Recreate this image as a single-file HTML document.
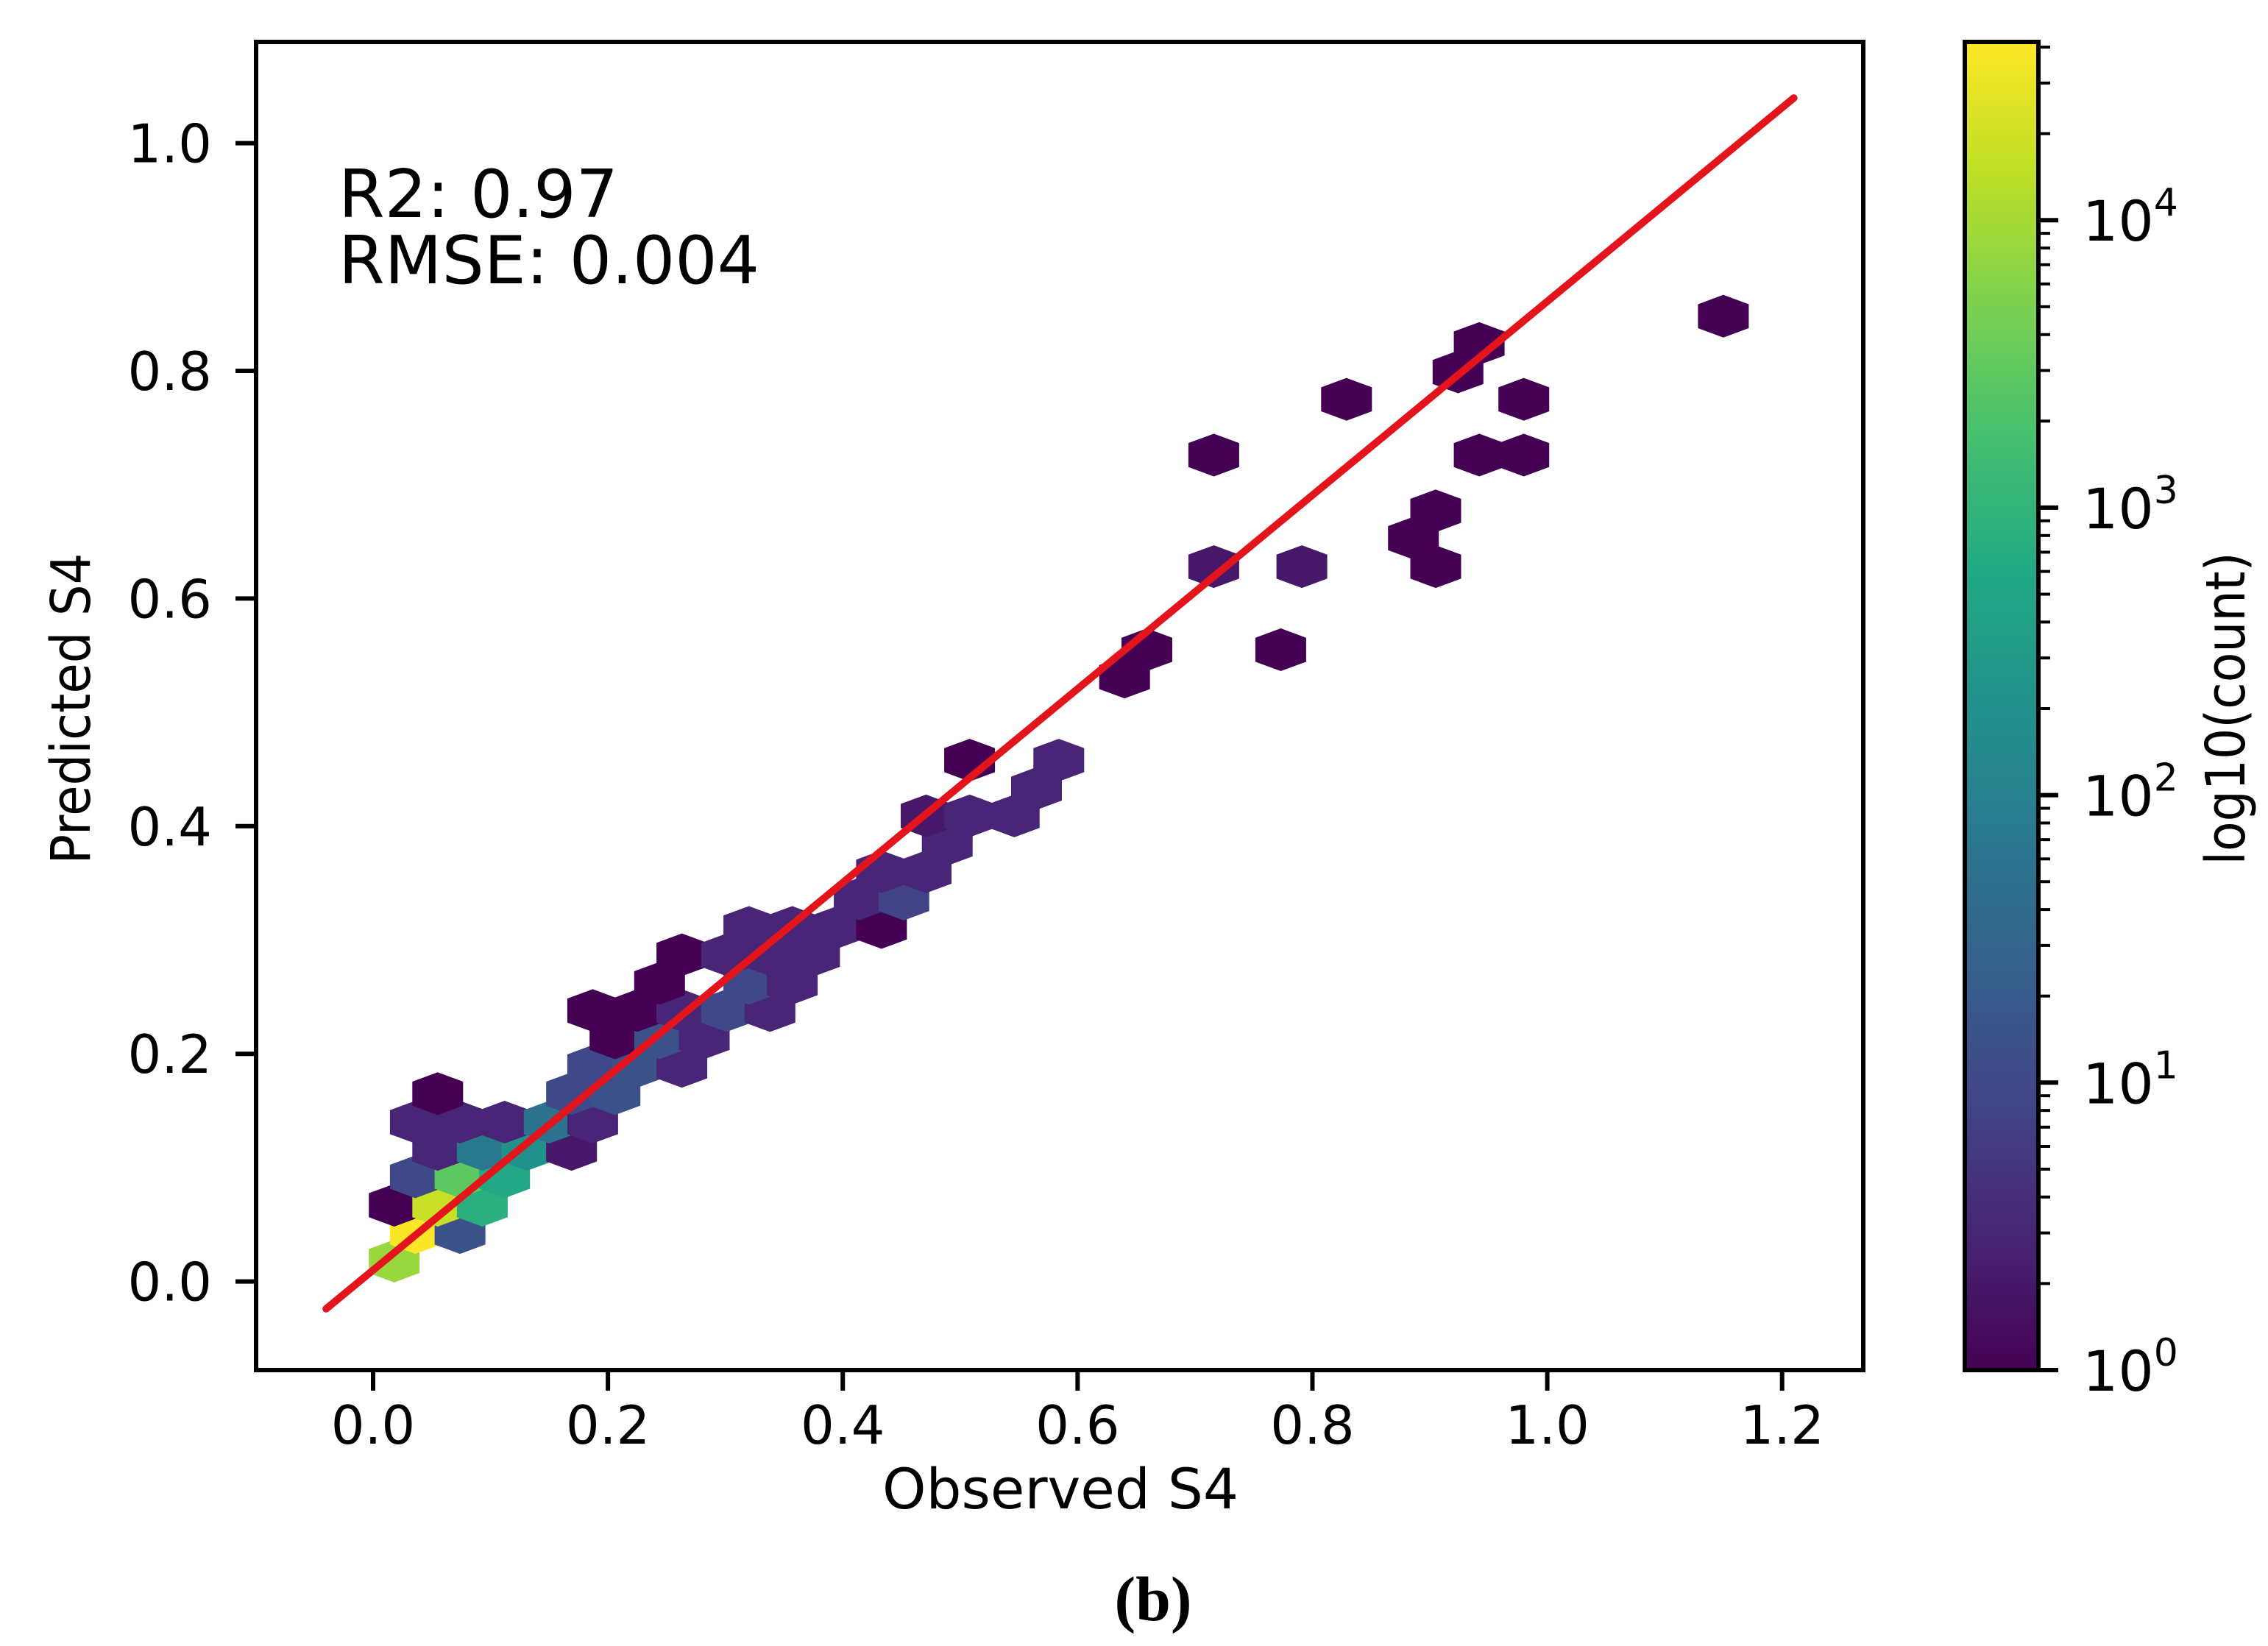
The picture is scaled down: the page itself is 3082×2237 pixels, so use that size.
<!DOCTYPE html>
<html><head><meta charset="utf-8">
<style>
html,body{margin:0;padding:0;background:#fff;}
svg{display:block;}
text{font-family:"DejaVu Sans","Liberation Sans",sans-serif;fill:#000;}
</style></head>
<body>
<svg id="chart" width="3082" height="2237" viewBox="0 0 3082 2237" xmlns="http://www.w3.org/2000/svg">
<defs>
<linearGradient id="viridis" x1="0" y1="1" x2="0" y2="0">
<stop offset="0" stop-color="#440154"/><stop offset="0.1" stop-color="#482475"/><stop offset="0.2" stop-color="#414487"/><stop offset="0.3" stop-color="#355f8d"/><stop offset="0.4" stop-color="#2a788e"/><stop offset="0.5" stop-color="#21918c"/><stop offset="0.6" stop-color="#22a884"/><stop offset="0.7" stop-color="#44bf70"/><stop offset="0.8" stop-color="#7ad151"/><stop offset="0.9" stop-color="#bddf26"/><stop offset="1" stop-color="#fde725"/>
</linearGradient>
<clipPath id="plotclip"><rect x="348" y="55" width="2184" height="1807"/></clipPath>
</defs>
<rect x="0" y="0" width="3082" height="2237" fill="#fff"/>
<g id="hexes" clip-path="url(#plotclip)"></g>
<g id="fitline" clip-path="url(#plotclip)"></g>
<rect x="348" y="57" width="2184" height="1805" fill="none" stroke="#000" stroke-width="6"/>
<g id="xticks"></g>
<g id="yticks"></g>
<text x="460" y="295" font-size="90" textLength="380" lengthAdjust="spacingAndGlyphs">R2: 0.97</text>
<text x="460" y="385" font-size="90" textLength="572" lengthAdjust="spacingAndGlyphs">RMSE: 0.004</text>
<text x="1441" y="2050" font-size="76" text-anchor="middle" textLength="484" lengthAdjust="spacingAndGlyphs">Observed S4</text>
<text transform="translate(122,963) rotate(-90)" font-size="74" text-anchor="middle" textLength="423" lengthAdjust="spacingAndGlyphs">Predicted S4</text>
<rect x="2670" y="57" width="100" height="1805" fill="url(#viridis)" stroke="#000" stroke-width="6"/>
<g id="cbticks"></g>
<text transform="translate(3050,963) rotate(-90)" font-size="74" text-anchor="middle" textLength="425" lengthAdjust="spacingAndGlyphs">log10(count)</text>
<text x="1567" y="2202" font-size="86" font-weight="bold" text-anchor="middle" style="font-family:'Liberation Serif',serif">(b)</text>
</svg>
<script>
const observed = [0.018,0.036,0.074,0.018,0.055,0.093,0.036,0.074,0.112,0.055,0.093,0.131,0.169,0.036,0.074,0.112,0.150,0.187,0.055,0.169,0.206,0.187,0.225,0.263,0.206,0.244,0.282,0.187,0.225,0.263,0.301,0.338,0.244,0.320,0.357,0.263,0.301,0.338,0.376,0.320,0.357,0.395,0.433,0.414,0.452,0.433,0.471,0.489,0.471,0.508,0.546,0.565,0.508,0.584,0.640,0.659,0.773,0.716,0.791,0.905,0.886,0.905,0.716,0.942,0.980,0.829,0.980,0.924,0.942,1.150];
const predicted = [0.018,0.043,0.043,0.067,0.067,0.067,0.092,0.092,0.092,0.116,0.116,0.116,0.116,0.140,0.140,0.140,0.140,0.140,0.165,0.165,0.165,0.189,0.189,0.189,0.214,0.214,0.214,0.238,0.238,0.238,0.238,0.238,0.262,0.262,0.262,0.287,0.287,0.287,0.287,0.311,0.311,0.311,0.311,0.336,0.336,0.360,0.360,0.384,0.409,0.409,0.409,0.433,0.458,0.458,0.531,0.555,0.555,0.628,0.628,0.628,0.653,0.677,0.726,0.726,0.726,0.775,0.775,0.799,0.824,0.848];
const counts = [8000,40000,14,1,17000,800,10,2800,600,3,70,200,2,3,3,3,60,3,1,10,14,10,14,3,1,14,3,1,1,3,10,3,1,10,3,1,3,3,3,3,3,3,1,3,8,3,3,3,2,3,3,3,1,3,1,1,1,2,2,1,1,1,1,1,1,1,1,1,1,1];
const xTicks = [0.0,0.2,0.4,0.6,0.8,1.0,1.2];
const xTickLabels = ["0.0","0.2","0.4","0.6","0.8","1.0","1.2"];
const yTicks = [0.0,0.2,0.4,0.6,0.8,1.0];
const yTickLabels = ["0.0","0.2","0.4","0.6","0.8","1.0"];
const cbDecades = [0,1,2,3,4];
const cbDecadeLabels = ["0","1","2","3","4"];
const fitSlope = 0.851;
const fitIntercept = 0.010;
const fitRange = [-0.04,1.21];

const NS = "http://www.w3.org/2000/svg";
const X0 = 507, XS = 1595.6, Y0 = 1741.6, YS = 1547;
const sx = v => X0 + v*XS;
const sy = v => Y0 - v*YS;
const CB_BOTTOM = 1862, CB_TOP = 57, CB_MAXLOG = 4.62;
const cy = lg => CB_BOTTOM - lg/CB_MAXLOG*(CB_BOTTOM-CB_TOP);
const stops = ["#440154","#482475","#414487","#355f8d","#2a788e","#21918c","#22a884","#44bf70","#7ad151","#bddf26","#fde725"];
function hex2rgb(h){return [1,3,5].map(i=>parseInt(h.substr(i,2),16));}
function viridis(t){
  t=Math.max(0,Math.min(1,t));
  const p=t*10, i=Math.min(9,Math.floor(p)), f=p-i;
  const a=hex2rgb(stops[i]), b=hex2rgb(stops[i+1]);
  return "rgb("+a.map((v,k)=>Math.round(v+(b[k]-v)*f)).join(",")+")";
}
function mk(tag, attrs, parent){
  const e=document.createElementNS(NS,tag);
  for(const k in attrs) e.setAttribute(k,attrs[k]);
  parent.appendChild(e); return e;
}
// hexes
const hg=document.getElementById("hexes");
const HW = 68, HH = 57, HS = 0.28;
for(let i=0;i<observed.length;i++){
  const cx=sx(observed[i]), cyy=sy(predicted[i]);
  const col=viridis(Math.log10(counts[i])/CB_MAXLOG);
  const pts=[[0,-HH/2],[HW/2,-HH*HS],[HW/2,HH*HS],[0,HH/2],[-HW/2,HH*HS],[-HW/2,-HH*HS]].map(p=>(cx+p[0]).toFixed(1)+","+(cyy+p[1]).toFixed(1)).join(" ");
  const el=mk("polygon",{points:pts,fill:col,stroke:col,"stroke-width":"1"},hg);
  
  
}
// fit line
const fl=mk("line",{x1:sx(fitRange[0]),y1:sy(fitIntercept+fitSlope*fitRange[0]),x2:sx(fitRange[1]),y2:sy(fitIntercept+fitSlope*fitRange[1]),stroke:"#e3141b","stroke-width":"10","stroke-linecap":"round"},document.getElementById("fitline"));


// x ticks
const xg=document.getElementById("xticks");
xTicks.forEach((v,i)=>{
  const t=mk("line",{x1:sx(v),x2:sx(v),y1:1862,y2:1890,stroke:"#000","stroke-width":"6"},xg);
  
  
  const l=mk("text",{x:sx(v),y:1962,"font-size":"72","text-anchor":"middle"},xg);
  l.textContent=xTickLabels[i];
  
  
});
// y ticks
const yg=document.getElementById("yticks");
yTicks.forEach((v,i)=>{
  const t=mk("line",{x1:320,x2:348,y1:sy(v),y2:sy(v),stroke:"#000","stroke-width":"6"},yg);
  
  
  const l=mk("text",{x:288,y:sy(v)+26,"font-size":"72","text-anchor":"end"},yg);
  l.textContent=yTickLabels[i];
  
  
});
// colorbar ticks
const cg=document.getElementById("cbticks");
cbDecades.forEach((d,i)=>{
  const y=cy(d);
  const t=mk("line",{x1:2770,x2:2797,y1:y,y2:y,stroke:"#000","stroke-width":"6"},cg);
  
  
  const l=mk("text",{x:2830,y:y+28,"font-size":"76"},cg);
  l.textContent="10";
  const s=mk("tspan",{dy:"-34","font-size":"52"},l);
  s.textContent=cbDecadeLabels[i];
  
  
  for(let m=2;m<=9;m++){
    const lg=d+Math.log10(m);
    if(lg>CB_MAXLOG) break;
    const mt=mk("line",{x1:2770,x2:2786,y1:cy(lg),y2:cy(lg),stroke:"#000","stroke-width":"4"},cg);
    
    
  }
});
</script>
</body></html>
